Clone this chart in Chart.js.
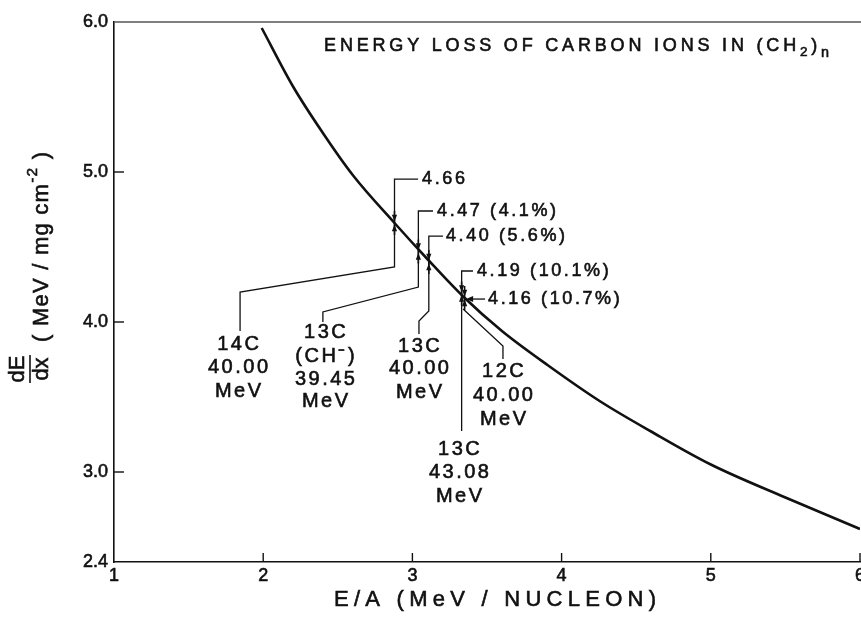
<!DOCTYPE html>
<html>
<head>
<meta charset="utf-8">
<title>Energy loss of carbon ions in (CH2)n</title>
<script src="https://cdn.jsdelivr.net/npm/chart.js@4.4.1/dist/chart.umd.min.js"></script>
<style>
  html, body { margin: 0; padding: 0; background: #fff; }
  canvas { display: block; }
</style>
</head>
<body>
<canvas id="lossChart" width="861" height="622"></canvas>
<script>
// stopping curve: E/A (MeV/nucleon) vs dE/dx (MeV / mg cm^-2)
const curveE    = [1.99, 2.2, 2.4, 2.6, 2.88, 3.1, 3.34, 3.6, 3.91, 4.26, 4.6, 5.0, 5.5, 6.0];
const curveDEDX = [5.96, 5.57, 5.26, 4.98, 4.66, 4.42, 4.17, 3.94, 3.71, 3.47, 3.27, 3.05, 2.83, 2.62];

// measured points
const measE     = [2.88, 3.04, 3.11, 3.33, 3.35];
const measDEDX  = [4.66, 4.47, 4.40, 4.19, 4.16];
const measLabel = ['4.66', '4.47 (4.1%)', '4.40 (5.6%)', '4.19 (10.1%)', '4.16 (10.7%)'];
const ionLabel  = [
  ['14C', '40.00', 'MeV'],
  ['13C', '(CH\u207B)', '39.45', 'MeV'],
  ['13C', '40.00', 'MeV'],
  ['13C', '43.08', 'MeV'],
  ['12C', '40.00', 'MeV']
];

const xTicks = [1, 2, 3, 4, 5, 6];
const yTicks = [2.4, 3, 4, 5, 6];

// leader lines / label anchors, in data units (E/A, dE/dx)
const annot = [
  { label: [3.065, 4.953], path: [[3.038, 4.953], [2.88, 4.953], [2.88, 4.367], [1.845, 4.20], [1.845, 3.94]], block: [1.831, [3.853, 3.70, 3.54]] },
  { label: [3.165, 4.74],  path: [[3.138, 4.74], [3.04, 4.74], [3.04, 4.233], [2.40, 4.067], [2.40, 4.0]], block: [2.414, [3.933, 3.773, 3.62, 3.467]] },
  { label: [3.225, 4.573], path: [[3.205, 4.573], [3.11, 4.573], [3.11, 4.073], [3.044, 4.007], [3.044, 3.92]], block: [3.044, [3.84, 3.693, 3.533]] },
  { label: [3.433, 4.34],  path: [[3.406, 4.34], [3.33, 4.34], [3.33, 3.273]], block: [3.312, [3.153, 3.0, 2.84]] },
  { label: [3.507, 4.153], path: [[3.34, 4.087], [3.607, 3.84], [3.607, 3.753]], arrow: [[3.487, 4.153], [3.36, 4.153]], block: [3.607, [3.667, 3.513, 3.353]] }
];

const FONT = '"Liberation Sans", Arial, sans-serif';
const INK = '#111';

// draws text char by char so the wide, heavy lettering of the original can be copied
function richText(ctx, segs, x, y, opt) {
  const items = [];
  segs.forEach(seg => {
    const fs = opt.size * (seg.s || 1);
    ctx.font = fs + 'px ' + FONT;
    for (const c of seg.t) items.push({ c, fs, dy: seg.dy || 0, w: ctx.measureText(c).width });
  });
  const natural = items.reduce((a, it) => a + it.w, 0);
  let gap = opt.gap || 0;
  if (opt.width && items.length > 1) gap = (opt.width - natural) / (items.length - 1);
  const total = natural + gap * (items.length - 1);
  let cx = opt.align === 'center' ? x - total / 2 : (opt.align === 'right' ? x - total : x);
  ctx.textAlign = 'left';
  ctx.textBaseline = 'middle';
  ctx.lineWidth = 0.6;
  items.forEach(it => {
    ctx.font = it.fs + 'px ' + FONT;
    ctx.fillText(it.c, cx, y + it.dy);
    ctx.strokeText(it.c, cx, y + it.dy);
    cx += it.w + gap;
  });
}

const annotPlugin = {
  id: 'annot',
  afterDatasetsDraw(chart) {
    const { ctx, chartArea: area } = chart;
    const xs = chart.scales.x, ys = chart.scales.y;
    const px = v => xs.getPixelForValue(v);
    const py = v => ys.getPixelForValue(v);
    ctx.save();
    ctx.strokeStyle = INK;
    ctx.fillStyle = INK;

    // top frame line
    ctx.lineWidth = 1.3;
    ctx.strokeStyle = '#555';
    ctx.beginPath();
    ctx.moveTo(area.left, area.top);
    ctx.lineTo(chart.width, area.top);
    ctx.stroke();
    ctx.strokeStyle = INK;

    // inward tick marks
    ctx.lineWidth = 1.4;
    xTicks.slice(1).forEach(v => {
      ctx.beginPath();
      ctx.moveTo(px(v), area.bottom);
      ctx.lineTo(px(v), area.bottom - 9);
      ctx.stroke();
    });
    yTicks.slice(1, -1).forEach(v => {
      ctx.beginPath();
      ctx.moveTo(area.left, py(v));
      ctx.lineTo(area.left + 10, py(v));
      ctx.stroke();
    });

    // tick labels
    xTicks.forEach(v => richText(ctx, [{ t: String(v) }], px(v), area.bottom + 14, { size: 18, align: 'center' }));
    yTicks.forEach(v => richText(ctx, [{ t: v.toFixed(1) }], area.left - 6, py(v), { size: 18, align: 'right' }));

    // leader lines
    ctx.lineWidth = 1.3;
    annot.forEach(a => {
      ctx.beginPath();
      a.path.forEach((p, i) => {
        if (i === 0) ctx.moveTo(px(p[0]), py(p[1]));
        else ctx.lineTo(px(p[0]), py(p[1]));
      });
      ctx.stroke();
      if (a.arrow) {
        const [f, t] = a.arrow;
        const tx = px(t[0]), ty = py(t[1]);
        ctx.beginPath();
        ctx.moveTo(px(f[0]), py(f[1]));
        ctx.lineTo(tx + 4, ty);
        ctx.stroke();
        ctx.beginPath();
        ctx.moveTo(tx, ty);
        ctx.lineTo(tx + 7, ty - 3);
        ctx.lineTo(tx + 7, ty + 3);
        ctx.closePath();
        ctx.fill();
      }
    });

    // measurement markers: small arrowheads pointing at the value from above and below
    measE.forEach((e, i) => {
      const x = px(e), v = measDEDX[i];
      ctx.lineWidth = 1.6;
      ctx.beginPath();
      ctx.moveTo(x, py(v + 0.08));
      ctx.lineTo(x, py(v - 0.08));
      ctx.stroke();
      ctx.beginPath();
      ctx.moveTo(x, py(v + 0.01));
      ctx.lineTo(x - 2.6, py(v + 0.055));
      ctx.lineTo(x + 2.6, py(v + 0.055));
      ctx.closePath();
      ctx.moveTo(x, py(v - 0.01));
      ctx.lineTo(x - 2.6, py(v - 0.055));
      ctx.lineTo(x + 2.6, py(v - 0.055));
      ctx.closePath();
      ctx.fill();
    });

    // value labels
    annot.forEach((a, i) => {
      richText(ctx, [{ t: measLabel[i] }], px(a.label[0]), py(a.label[1]), { size: 18, gap: 2.6, align: 'left' });
    });

    // ion / energy blocks
    annot.forEach((a, i) => {
      const [bx, rows] = a.block;
      ionLabel[i].forEach((t, j) => {
        richText(ctx, [{ t }], px(bx), py(rows[j]), { size: 20, gap: 2.5, align: 'center' });
      });
    });

    // title inside the plot
    richText(ctx, [
      { t: 'ENERGY LOSS OF CARBON IONS IN (CH' },
      { t: '2', s: 0.75, dy: 6 },
      { t: ')' },
      { t: 'n', s: 0.8, dy: 7 }
    ], px(2.408), py(5.84), { size: 18, width: 505, align: 'left' });

    // x axis title
    richText(ctx, [{ t: 'E/A (MeV / NUCLEON)' }], 495, 600, { size: 22, width: 322, align: 'center' });

    // y axis title: dE/dx fraction then units, rotated
    ctx.save();
    ctx.translate(30, 384);
    ctx.rotate(-Math.PI / 2);
    richText(ctx, [{ t: 'dE' }], 15, -12, { size: 22, align: 'center' });
    richText(ctx, [{ t: 'dx' }], 15, 12, { size: 22, align: 'center' });
    ctx.lineWidth = 1.6;
    ctx.beginPath();
    ctx.moveTo(1, 0);
    ctx.lineTo(29, 0);
    ctx.stroke();
    richText(ctx, [
      { t: '( MeV / mg cm' },
      { t: '-2', s: 0.7, dy: -9 },
      { t: ' )' }
    ], 42, 12, { size: 22, width: 190, align: 'left' });
    ctx.restore();

    ctx.restore();
  }
};

const ctx = document.getElementById('lossChart').getContext('2d');
new Chart(ctx, {
  type: 'scatter',
  data: {
    datasets: [{
      label: 'dE/dx',
      data: curveE.map((e, i) => ({ x: e, y: curveDEDX[i] })),
      showLine: true,
      borderColor: INK,
      borderWidth: 2.6,
      pointRadius: 0,
      cubicInterpolationMode: 'monotone',
      fill: false
    }]
  },
  options: {
    responsive: false,
    animation: false,
    devicePixelRatio: 1,
    layout: { autoPadding: false, padding: { top: 22, right: 1, left: 0, bottom: 0 } },
    plugins: { legend: { display: false }, tooltip: { enabled: false } },
    scales: {
      x: {
        type: 'linear',
        min: 1,
        max: 6,
        afterBuildTicks: s => { s.ticks = xTicks.map(v => ({ value: v })); },
        afterFit: s => { s.height = 60; s.paddingLeft = 0; s.paddingRight = 0; },
        grid: { display: false, drawTicks: false },
        border: { display: true, color: INK, width: 1.6 },
        ticks: { display: false }
      },
      y: {
        type: 'linear',
        min: 2.4,
        max: 6,
        afterBuildTicks: s => { s.ticks = yTicks.map(v => ({ value: v })); },
        afterFit: s => { s.width = 114; s.paddingTop = 0; s.paddingBottom = 0; },
        grid: { display: false, drawTicks: false },
        border: { display: true, color: INK, width: 1.6 },
        ticks: { display: false }
      }
    }
  },
  plugins: [annotPlugin]
});
</script>
</body>
</html>
